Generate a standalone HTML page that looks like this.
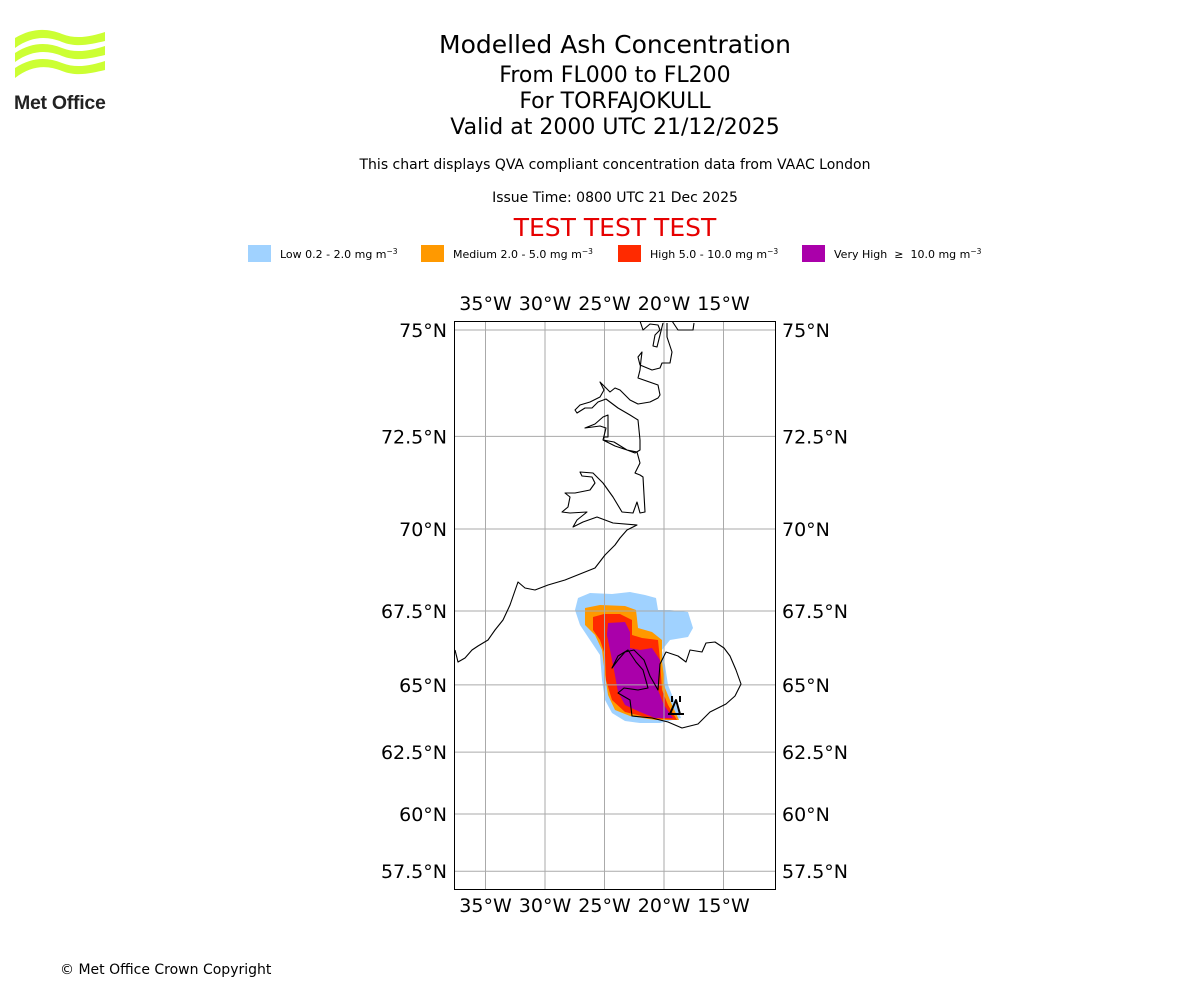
<!DOCTYPE html>
<html><head><meta charset="utf-8">
<style>
html,body{margin:0;padding:0;background:#fff;}
body{width:1200px;height:1000px;position:relative;overflow:hidden;font-family:"DejaVu Sans","Liberation Sans",sans-serif;}
.t{position:absolute;left:0;width:1230px;text-align:center;color:#000;white-space:nowrap;}
.leg{position:absolute;top:245px;height:17px;font-size:11px;line-height:17px;}
.leg .sw{position:absolute;left:0;top:0;width:23px;height:17px;}
.leg span.l{position:absolute;left:32px;top:-2px;white-space:nowrap;}
sup{font-size:7.5px;vertical-align:4px;}
</style></head><body>
<svg style="position:absolute;left:12px;top:28px" width="96" height="84" viewBox="0 0 96 84">
 <g fill="#ccff33">
  <path d="M3 10 C20 0,35 0,50 6 C65 12,80 8,93 4 L93 13 C80 16,65 20,50 14 C35 8,20 8,3 20Z"/>
  <path d="M3 25 C20 14,35 14,50 20 C65 26,80 22,93 18 L93 27 C80 30,65 34,50 28 C35 22,20 22,3 34Z"/>
  <path d="M3 40 C20 29,35 29,50 35 C65 41,80 37,93 33 L93 42 C80 45,65 49,50 43 C35 37,20 37,3 50Z"/>
 </g>
 <text x="2" y="81" font-family="Liberation Sans,sans-serif" font-weight="bold" font-size="19.5" fill="#222" letter-spacing="-0.8" textLength="91">Met Office</text>
</svg>
<div class="t" style="top:30px;font-size:25px">Modelled Ash Concentration</div>
<div class="t" style="top:63px;font-size:22px">From FL000 to FL200</div>
<div class="t" style="top:89px;font-size:22px">For TORFAJOKULL</div>
<div class="t" style="top:115px;font-size:22px">Valid at 2000 UTC 21/12/2025</div>
<div class="t" style="top:157px;font-size:14px">This chart displays QVA compliant concentration data from VAAC London</div>
<div class="t" style="top:190px;font-size:14px">Issue Time: 0800 UTC 21 Dec 2025</div>
<div class="t" style="top:213px;font-size:25px;color:#e60000">TEST TEST TEST</div>
<div class="leg" style="left:248px"><div class="sw" style="background:#a0d2ff"></div><span class="l">Low 0.2 - 2.0 mg m<sup>−3</sup></span></div>
<div class="leg" style="left:421px"><div class="sw" style="background:#ff9900"></div><span class="l">Medium 2.0 - 5.0 mg m<sup>−3</sup></span></div>
<div class="leg" style="left:618px"><div class="sw" style="background:#ff2a00"></div><span class="l">High 5.0 - 10.0 mg m<sup>−3</sup></span></div>
<div class="leg" style="left:802px"><div class="sw" style="background:#aa00aa"></div><span class="l">Very High &nbsp;≥ &nbsp;10.0 mg m<sup>−3</sup></span></div>

<svg id="map" style="position:absolute;left:0;top:0" width="1200" height="1000">
 <defs><clipPath id="clip"><rect x="454" y="321" width="322" height="569"/></clipPath></defs>
 <g clip-path="url(#clip)">
  <polygon fill="#a0d2ff" points="578,598 590,593 612,594 630,592 645,595 656,598 658,610 670,610 688,612 693,628 688,637 670,640 662,650 665,665 668,685 676,705 681,718 660,723 640,723 625,721 612,713 605,700 602,680 600,655 590,640 580,625 575,610"/>
  <polygon fill="#ff9900" points="585,608 600,605 625,606 636,610 638,628 652,632 662,640 662,660 665,688 672,705 679,720 655,720 630,716 615,710 608,695 605,675 602,650 595,635 585,625"/>
  <polygon fill="#ff2a00" points="593,617 604,614 620,614 632,620 632,635 642,638 658,640 660,660 662,690 668,705 677,720 650,718 625,712 612,700 606,680 605,655 600,640 593,630"/>
  <polygon fill="#aa00aa" points="608,623 625,622 630,632 630,648 640,650 652,648 660,660 658,690 664,705 673,718 655,718 640,712 625,705 618,692 614,670 610,650 607,635"/>
  <g id="grid"></g>
  <g fill="none" stroke="#000" stroke-width="1.1" stroke-linejoin="round">
   <path d="M640,321 L643,330 L650,324 L658,325 L660,330 L655,335 L653,346 L657,347 L660,335 L663,323 M672,321 L678,330 L693,330 L694,323 M667,323 L667,337 L672,352 L670,363 L662,363 L660,368 L652,370 L640,365 L638,357 L642,352 L641,360 L640,370 L638,378 L658,385 L660,395 L658,398 L650,402 L638,404 L630,400 L620,390 L615,388 L610,392 L600,382 L604,390 L600,397 L590,402 L580,405 L575,410 L577,413 L585,408 L592,408 L598,402 L606,399 L618,408 L630,415 L638,420 L640,440 L640,450 L635,453 L627,450 L614,442 L603,440 L604,437 L608,437 L608,415 L603,417 L595,424 L585,428 L600,426 L606,428 L603,440 L615,446 L627,450 L637,452 L640,463 L635,473 L640,475 L643,477 L645,512 L640,513 L637,502 L633,513 L622,512 L613,497 L603,483 L593,473 L580,472 L582,476 L592,477 L595,483 L590,490 L575,493 L565,493 L570,497 L568,507 L562,512 L570,513 L587,512 L577,520 L573,527 L583,522 L597,517 L613,523 L637,525 L627,530 L620,538 L615,545 L605,555 L595,568 L585,572 L565,580 L548,585 L535,590 L525,588 L518,582 L510,605 L503,620 L495,630 L488,640 L478,646 L472,650 L465,658 L458,662 L455,650"/>
   <path d="M612,668 L618,656 L628,650 L636,662 L643,670 L648,688 L638,690 L624,688 L618,693 L630,700 L632,716 L652,718 L668,722 L682,728 L698,724 L710,712 L726,704 L735,696 L741,684 L736,670 L730,656 L724,648 L715,642 L706,643 L702,652 L690,650 L686,662 L678,656 L666,652 L660,664 L658,690 L650,676 L644,660 L634,650 L625,652 L618,660 Z"/>
   <path stroke-width="2" d="M668,714 L684,714 M670,714 L676,700 L680,714 M672,702 L672,696 M680,702 L680,696"/>
  </g>
 </g>
 <rect x="454.5" y="321.5" width="321" height="568" fill="none" stroke="#000" stroke-width="1"/>
 <g id="labels" font-family="DejaVu Sans, Liberation Sans, sans-serif" font-size="19" fill="#000"></g>
</svg>
<div style="position:absolute;left:60px;top:962px;font-size:14px">© Met Office Crown Copyright</div>
<script>
const lonTicks=[-35,-30,-25,-20,-15];
const lonLabels=["35°W","30°W","25°W","20°W","15°W"];
const latTicks=[75,72.5,70,67.5,65,62.5,60,57.5];
const latLabels=["75°N","72.5°N","70°N","67.5°N","65°N","62.5°N","60°N","57.5°N"];
const NS="http://www.w3.org/2000/svg";
function merc(lat){return Math.log(Math.tan(Math.PI/4+lat*Math.PI/360));}
function xOf(lon){return 664+(lon+20)*11.9;}
function yOf(lat){return 330-(merc(lat)-merc(75))*681;}
const grid=document.getElementById('grid'),labels=document.getElementById('labels');
function mk(tag,attrs,parent){const e=document.createElementNS(NS,tag);for(const k in attrs)e.setAttribute(k,attrs[k]);parent.appendChild(e);return e;}
lonTicks.forEach((lon,i)=>{
 const x=xOf(lon);
 const l=mk('line',{x1:x,x2:x,y1:321,y2:890,stroke:'#aaa','stroke-width':1},grid);
 
 
 [310,912].forEach(y=>{
  const t=mk('text',{x:x,y:y,'text-anchor':'middle'},labels);
  t.textContent=lonLabels[i];
  
  
 });
});
latTicks.forEach((lat,i)=>{
 const y=yOf(lat);
 const l=mk('line',{x1:454,x2:776,y1:y,y2:y,stroke:'#aaa','stroke-width':1},grid);
 
 
 const a=mk('text',{x:447,y:y+7,'text-anchor':'end'},labels);
 a.textContent=latLabels[i];
 
 
 const b=mk('text',{x:782,y:y+7,'text-anchor':'start'},labels);
 b.textContent=latLabels[i];
 
 
});
</script>
</body></html>
